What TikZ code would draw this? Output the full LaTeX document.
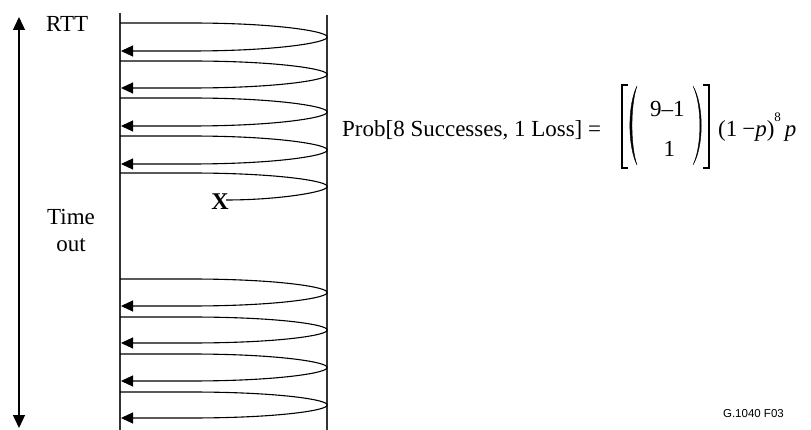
\documentclass[tikz,border=0pt]{standalone}
\usepackage{fontspec}
\setmainfont{Liberation Serif}
\newfontfamily\labelsans{Liberation Sans}
\usetikzlibrary{arrows.meta}
\begin{document}
\begin{tikzpicture}[x=1pt,y=-1pt,
  txt/.style={inner sep=0pt,font=\fontsize{23}{27}\selectfont},
  lane/.style={line width=1.3pt,draw=black!80},
  loopline/.style={line width=1.1pt,draw=black},
  tipped/.style={-{Triangle[length=12pt,width=11pt]}},
  timeaxis/.style={line width=1.3pt,{Triangle[length=13pt,width=12pt]}-{Triangle[length=13pt,width=12pt]}},
  brk/.style={line width=1.4pt,draw=black},
  paren/.style={fill=black,draw=black,line width=0.4pt}]
\useasboundingbox (0,0) rectangle (811,430);
% time axis
\coordinate (axtop) at (19,17);
\coordinate (axbot) at (19,428);
\draw[timeaxis] (axtop) -- (axbot);
\node[txt,anchor=base west] (rtt) at (46,32) {RTT};
\node[txt,anchor=base] (time) at (71,225) {Time};
\node[txt,anchor=base] (out) at (71,252) {out};
% lanes
\coordinate (ltop) at (120,13);
\coordinate (lbot) at (120,430);
\coordinate (rtop) at (327,15);
\coordinate (rbot) at (327,430);
\draw[lane] (ltop) -- (lbot);
\draw[lane] (rtop) -- (rbot);
% successful round trips
\foreach \a/\b [count=\i, evaluate=\a as \m using (\a+\b)/2] in {23/51, 61/88, 98/126, 136/164, 279/306, 317/343, 354/381, 392/418} {
  \coordinate (s\i) at (120,\a);
  \coordinate (r\i) at (121,\b);
  \draw[loopline,tipped] (s\i) -- (190,\a) .. controls (280,\a) and (329,\m-5) .. (327,\m)
     .. controls (329,\m+5) and (280,\b) .. (190,\b) -- (r\i);
}
% lost packet
\node[inner sep=0pt,font=\fontsize{24}{28}\selectfont\bfseries,anchor=base] (x) at (220,210) {X};
\coordinate (s0) at (120,173);
\coordinate (xend) at (226,200);
\draw[loopline] (s0) -- (190,173) .. controls (280,173) and (329,181.5) .. (327,186.5)
   .. controls (329,191.5) and (280,200) .. (xend);
% formula
\node[txt,anchor=base west] (prob) at (342,137) {Prob[8 Successes, 1 Loss] =};
\node[txt,anchor=base west] (top) at (650,117) {9–1};
\node[txt,anchor=base west] (bot) at (663.5,157) {1};
\node[txt,anchor=base west] (rest) at (718,137) {(1\hspace{5pt}−\textit{p})\raisebox{15pt}{\fontsize{13}{13}\selectfont 8}\hspace{4pt}\textit{p}};
% brackets
\draw[brk] (628,85) -- (622,85) -- (622,168) -- (628,168);
\draw[brk] (703,85) -- (709,85) -- (709,168) -- (703,168);
% parentheses
\path[paren] (637,86) .. controls (627.5,105) and (627.5,146) .. (637,165)
   .. controls (630.3,146) and (630.3,105) .. (637,86) -- cycle;
\path[paren] (693,86) .. controls (704,105) and (704,146) .. (693,165)
   .. controls (702.2,146) and (702.2,105) .. (693,86) -- cycle;
% figure id
\node[inner sep=0pt,font=\labelsans\fontsize{11.5}{13}\selectfont,anchor=base east] (fig) at (784,417) {G.1040  F03};
\end{tikzpicture}
\end{document}
